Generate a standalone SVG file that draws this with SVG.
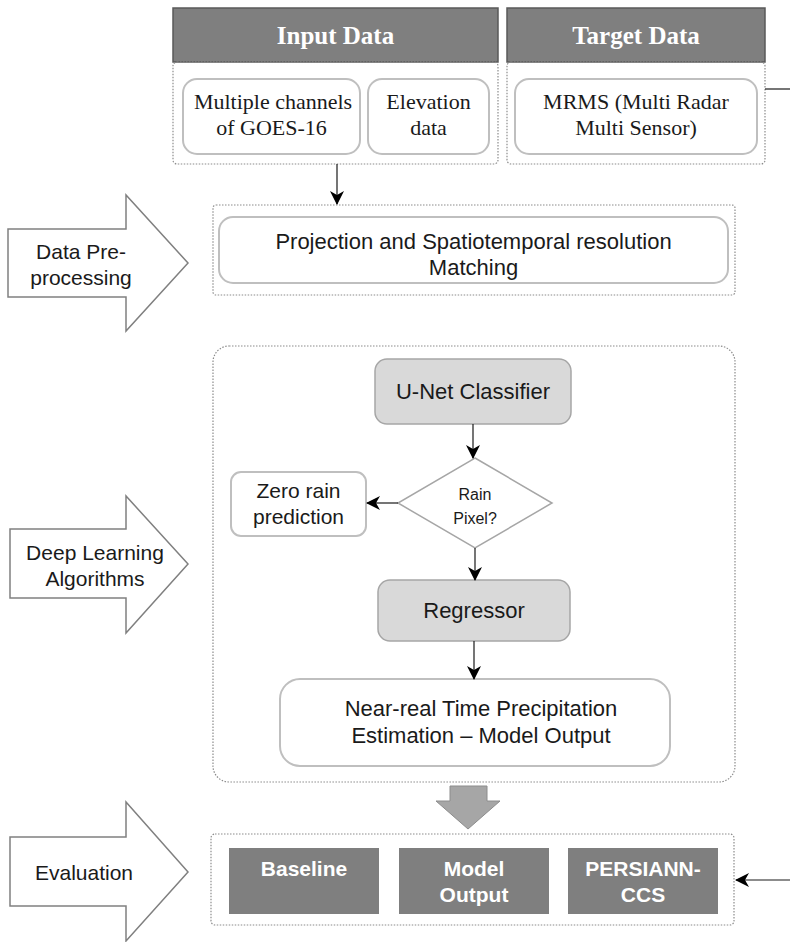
<svg xmlns="http://www.w3.org/2000/svg" width="790" height="942" viewBox="0 0 790 942">
<defs>
<style>
.hdr{fill:#7f7f7f;stroke:#595959;stroke-width:1.5}
.hdrt{font-family:"Liberation Serif",serif;font-weight:bold;font-size:25px;fill:#fff;text-anchor:middle}
.dot{fill:none;stroke:#8c8c8c;stroke-width:1.2;stroke-dasharray:1.5,1.5}
.box{fill:#fff;stroke:#bfbfbf;stroke-width:2}
.gbox{fill:#d9d9d9;stroke:#a6a6a6;stroke-width:1.5}
.serif{font-family:"Liberation Serif",serif;font-size:22px;fill:#1a1a1a;text-anchor:middle}
.sans{font-family:"Liberation Sans",Arial,sans-serif;font-size:22px;fill:#1a1a1a;text-anchor:middle}
.lsans{font-family:"Liberation Sans",Arial,sans-serif;font-size:21px;fill:#1a1a1a;text-anchor:middle}
.small{font-family:"Liberation Sans",Arial,sans-serif;font-size:16px;fill:#1a1a1a;text-anchor:middle}
.blk{fill:#fff;stroke:#808080;stroke-width:1.5}
.ebox{fill:#7f7f7f;stroke:none}
.et{font-family:"Liberation Sans",Arial,sans-serif;font-weight:bold;font-size:21px;fill:#fff;text-anchor:middle}
.ln{fill:none;stroke:#1a1a1a;stroke-width:1.2}
</style>
<marker id="ah" markerWidth="14" markerHeight="14" viewBox="0 0 14 14" refX="13" refY="7" orient="auto" markerUnits="userSpaceOnUse">
<path d="M0,0 L14,7 L0,14 L4,7 Z" fill="#000"/>
</marker>
</defs>

<g id="input-data">
<rect class="hdr" x="173" y="8" width="325" height="54"/>
<text class="hdrt" x="335.5" y="44">Input Data</text>
<rect class="dot" x="173" y="62" width="325" height="102" rx="4"/>
</g>
<g id="goes16">
<rect class="box" x="183" y="79" width="177" height="75" rx="14"/>
<text class="serif" x="273" y="109">Multiple channels</text>
<text class="serif" x="271.5" y="135">of GOES-16</text>
</g>
<g id="elevation">
<rect class="box" x="368" y="79" width="121" height="75" rx="14"/>
<text class="serif" x="428.5" y="109">Elevation</text>
<text class="serif" x="428.5" y="135">data</text>
</g>
<g id="target-data">
<rect class="hdr" x="507" y="8" width="258" height="54"/>
<text class="hdrt" x="636" y="44">Target Data</text>
<rect class="dot" x="507" y="62" width="258" height="102" rx="4"/>
</g>
<g id="mrms">
<rect class="box" x="515" y="79" width="242" height="75" rx="14"/>
<text class="serif" x="636" y="109">MRMS (Multi Radar</text>
<text class="serif" x="636" y="135">Multi Sensor)</text>
</g>

<g id="arrow-preprocessing">
<polygon class="blk" points="8,229 126,229 126,195 188,263 126,331 126,297 8,297"/>
<text class="lsans" x="81" y="259">Data Pre-</text>
<text class="lsans" x="81" y="285">processing</text>
</g>
<g id="preprocessing">
<rect class="dot" x="213" y="205" width="522" height="90" rx="3"/>
<rect class="box" x="219" y="217" width="509" height="66" rx="14"/>
<text class="sans" x="473.5" y="249">Projection and Spatiotemporal resolution</text>
<text class="sans" x="473.5" y="275">Matching</text>
</g>

<g id="arrow-deeplearning">
<polygon class="blk" points="10,529 126,529 126,496 188,564 126,633 126,598 10,598"/>
<text class="lsans" x="95" y="560">Deep Learning</text>
<text class="lsans" x="95" y="586">Algorithms</text>
</g>
<g id="deeplearning">
<rect class="dot" x="213" y="346" width="522" height="436" rx="16"/>
</g>
<g id="unet">
<rect class="gbox" x="375" y="359" width="196" height="65" rx="12"/>
<text class="sans" x="473" y="399">U-Net Classifier</text>
</g>
<g id="rain-pixel">
<polygon fill="#fff" stroke="#a6a6a6" stroke-width="1.5" points="475,458 552,503 475,548 398,503"/>
<text class="small" x="475" y="500">Rain</text>
<text class="small" x="475" y="524">Pixel?</text>
</g>
<g id="zero-rain">
<rect class="box" x="231" y="472" width="135" height="64" rx="10" stroke-width="1.5"/>
<text class="lsans" x="298.5" y="498">Zero rain</text>
<text class="lsans" x="298.5" y="524">prediction</text>
</g>
<g id="regressor">
<rect class="gbox" x="378" y="580" width="192" height="61" rx="12"/>
<text class="sans" x="474" y="618">Regressor</text>
</g>
<g id="model-output-estimation">
<rect class="box" x="280" y="679" width="390" height="87" rx="20"/>
<text class="sans" x="481" y="716">Near-real Time Precipitation</text>
<text class="sans" x="481" y="743">Estimation – Model Output</text>
</g>

<g id="arrow-evaluation">
<polygon class="blk" points="10,837 126,837 126,802 188,872 126,941 126,906 10,906"/>
<text class="lsans" x="84" y="880">Evaluation</text>
</g>
<g id="evaluation">
<rect class="dot" x="211" y="834" width="523" height="91" rx="4"/>
</g>
<g id="baseline">
<rect class="ebox" x="229" y="848" width="150" height="66"/>
<text class="et" x="304" y="876">Baseline</text>
</g>
<g id="model-output">
<rect class="ebox" x="399" y="848" width="150" height="66"/>
<text class="et" x="474" y="876">Model</text>
<text class="et" x="474" y="902">Output</text>
</g>
<g id="persiann">
<rect class="ebox" x="568" y="848" width="150" height="66"/>
<text class="et" x="643" y="876">PERSIANN-</text>
<text class="et" x="643" y="902">CCS</text>
</g>

<g id="connectors">
<line class="ln" x1="337" y1="164" x2="337" y2="204" marker-end="url(#ah)"/>
<line class="ln" x1="473" y1="424" x2="473" y2="458" marker-end="url(#ah)"/>
<line class="ln" x1="398" y1="503" x2="367" y2="503" marker-end="url(#ah)"/>
<line class="ln" x1="475" y1="548" x2="475" y2="580" marker-end="url(#ah)"/>
<line class="ln" x1="474" y1="641" x2="474" y2="679" marker-end="url(#ah)"/>
<line class="ln" x1="765" y1="89" x2="790" y2="89"/>
<line class="ln" x1="790" y1="880" x2="736" y2="880" marker-end="url(#ah)"/>
<polygon fill="#a6a6a6" stroke="#8c8c8c" stroke-width="1" points="450,786 487,786 487,801 500,801 468,829 436,801 450,801"/>
</g>
</svg>
